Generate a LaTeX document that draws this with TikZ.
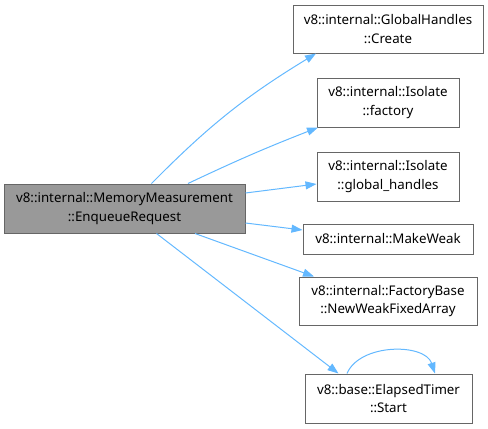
\documentclass[tikz,border=0pt]{standalone}
\usepackage{fontspec}
\setmainfont{Noto Sans}
\usetikzlibrary{arrows.meta}
\begin{document}
\begin{tikzpicture}[x=1pt,y=-1pt,
  box/.style={draw=black!60,fill=white,line width=1pt,inner sep=0pt,align=center,
    font=\fontsize{13.3}{18.5}\selectfont,text=black},
  mainbox/.style={box,fill=black!40}]
\definecolor{edgec}{HTML}{63B8FF}
\tikzset{edge/.style={draw=edgec,line width=1pt,-{Triangle[length=11pt,width=8pt]}}}
\useasboundingbox (0,0) rectangle (488,429);
\node[mainbox,minimum width=241pt,minimum height=49pt] (main) at (124.5,208.5)
  {v8::internal::MemoryMeasurement\\::EnqueueRequest};
\node[box,minimum width=190pt,minimum height=48pt] (create) at (388,29)
  {v8::internal::GlobalHandles\\::Create};
\node[box,minimum width=142pt,minimum height=49pt] (factory) at (388,102.5)
  {v8::internal::Isolate\\::factory};
\node[box,minimum width=142pt,minimum height=49pt] (gh) at (388,176.5)
  {v8::internal::Isolate\\::global\_handles};
\node[box,minimum width=170pt,minimum height=30pt] (weak) at (388,239)
  {v8::internal::MakeWeak};
\node[box,minimum width=178pt,minimum height=48pt] (fba) at (388,301)
  {v8::internal::FactoryBase\\::NewWeakFixedArray};
\node[box,minimum width=167pt,minimum height=49pt] (start) at (388.5,398.5)
  {v8::base::ElapsedTimer\\::Start};
\draw[edge] ([xshift=27pt]main.north) to[bend left=7] ([xshift=-72pt]create.south);
\draw[edge] ([xshift=63.5pt]main.north) to[bend left=2] ([xshift=-70pt]factory.south);
\draw[edge] ([yshift=15.5pt]main.east) -- ([yshift=-7.5pt]gh.west);
\draw[edge] ([yshift=-14.5pt]main.east) -- ([yshift=9pt]weak.west);
\draw[edge] ([xshift=70.5pt]main.south) -- ([xshift=-74pt]fba.north);
\draw[edge] ([xshift=32pt]main.south) -- ([xshift=-50pt]start.north);
\draw[edge] ([xshift=-41.5pt]start.north) .. controls (360,343) and (425,343) .. ([xshift=46.5pt]start.north);
\end{tikzpicture}
\end{document}
